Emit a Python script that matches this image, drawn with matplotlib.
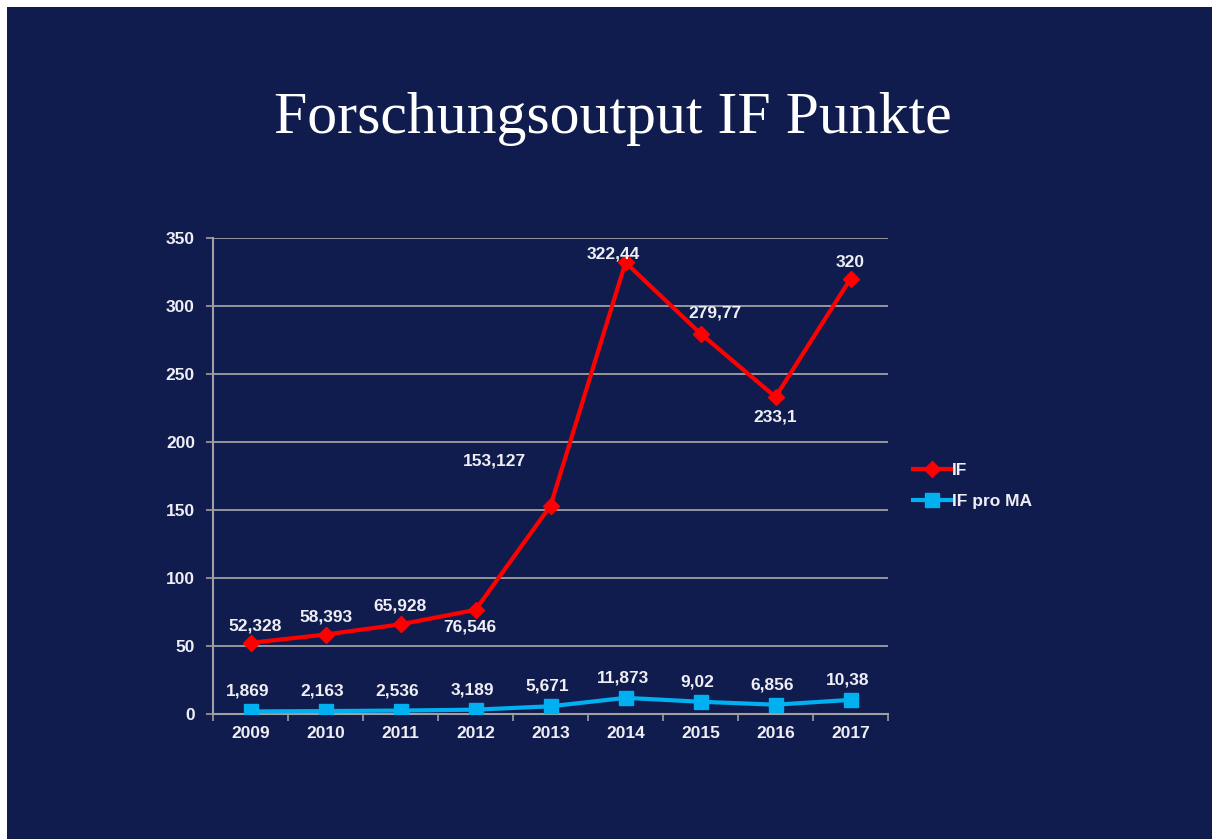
import matplotlib
matplotlib.use("Agg")
import matplotlib.pyplot as plt
from matplotlib.patches import Rectangle

# Data
years = ["2009", "2010", "2011", "2012", "2013", "2014", "2015", "2016", "2017"]
if_values = [52.328, 58.393, 65.928, 76.546, 153.127, 332.0, 279.77, 233.1, 320.0]
if_labels = ["52,328", "58,393", "65,928", "76,546", "153,127", "322,44", "279,77", "233,1", "320"]
ifma_values = [1.869, 2.163, 2.536, 3.189, 5.671, 11.873, 9.02, 6.856, 10.38]
ifma_labels = ["1,869", "2,163", "2,536", "3,189", "5,671", "11,873", "9,02", "6,856", "10,38"]
yticks = [0, 50, 100, 150, 200, 250, 300, 350]

# label offsets in pixels (dx, dy) for the IF series
if_offsets = [(5, 17), (0, 18), (0, 18), (-6, -17), (-56, 45), (-12, 8), (14, 21), (0, -20), (0, 16)]

bg = "#111c4e"
txt = "#eeeef4"
grid_c = "#a0a0a0"
red = "#ff0000"
blue = "#00b0f0"

W, H = 1212, 839
fig = plt.figure(figsize=(W / 100, H / 100), dpi=100)
fig.patch.set_facecolor("white")
fig.add_artist(Rectangle((7 / W, 0), 1 - 7 / W, 1 - 7 / H, transform=fig.transFigure,
                         facecolor=bg, edgecolor="none", zorder=0))

fig.text(613 / W, 1 - 133 / H, "Forschungsoutput IF Punkte", ha="center", va="baseline",
         fontsize=43, color="white", family="Liberation Serif")

ax = fig.add_axes([213 / W, 125 / H, 675 / W, 476 / H])
ax.set_facecolor(bg)
x = list(range(len(years)))

ax.plot(x, if_values, color=red, lw=3, marker="D", markersize=8, label="IF", zorder=4)
ax.plot(x, ifma_values, color=blue, lw=3, marker="s", markersize=10, label="IF pro MA", zorder=4)

font = dict(family="Liberation Sans", weight="bold", fontsize=12.5, color=txt)
for i, lab in enumerate(if_labels):
    ax.annotate(lab, (x[i], if_values[i]), xytext=if_offsets[i], textcoords="offset pixels",
                ha="center", va="center", zorder=5, **font)
for i, lab in enumerate(ifma_labels):
    ax.annotate(lab, (x[i], ifma_values[i]), xytext=(-3, 20), textcoords="offset pixels",
                ha="center", va="center", zorder=5, **font)

ax.set_xlim(-0.5, len(years) - 0.5)
ax.set_ylim(0, 350)
ax.set_yticks(yticks)
ax.set_yticklabels([str(v) for v in yticks], **font)
ax.set_xticks(x)
ax.set_xticklabels(years, **font)
ax.set_xticks([i - 0.5 for i in range(len(years) + 1)], minor=True)
ax.tick_params(axis="x", which="major", length=0, pad=9)
ax.tick_params(axis="x", which="minor", length=5, width=1.2, color=grid_c, direction="out")
ax.tick_params(axis="y", length=5, width=1.2, color=grid_c, pad=8)
ax.grid(axis="y", color=grid_c, lw=1.3)
ax.set_axisbelow(True)
for s in ["top", "right"]:
    ax.spines[s].set_visible(False)
for s in ["left", "bottom"]:
    ax.spines[s].set_color(grid_c)
    ax.spines[s].set_linewidth(1.5)

leg = fig.legend(loc="center left", bbox_to_anchor=(897 / W, 1 - 486 / H), frameon=False,
                 handlelength=2.2, handletextpad=0.05, labelspacing=0.95,
                 prop=dict(family="Liberation Sans", weight="bold", size=12.5))
for t in leg.get_texts():
    t.set_color(txt)

fig.savefig("out.png", dpi=100, facecolor=fig.get_facecolor())
